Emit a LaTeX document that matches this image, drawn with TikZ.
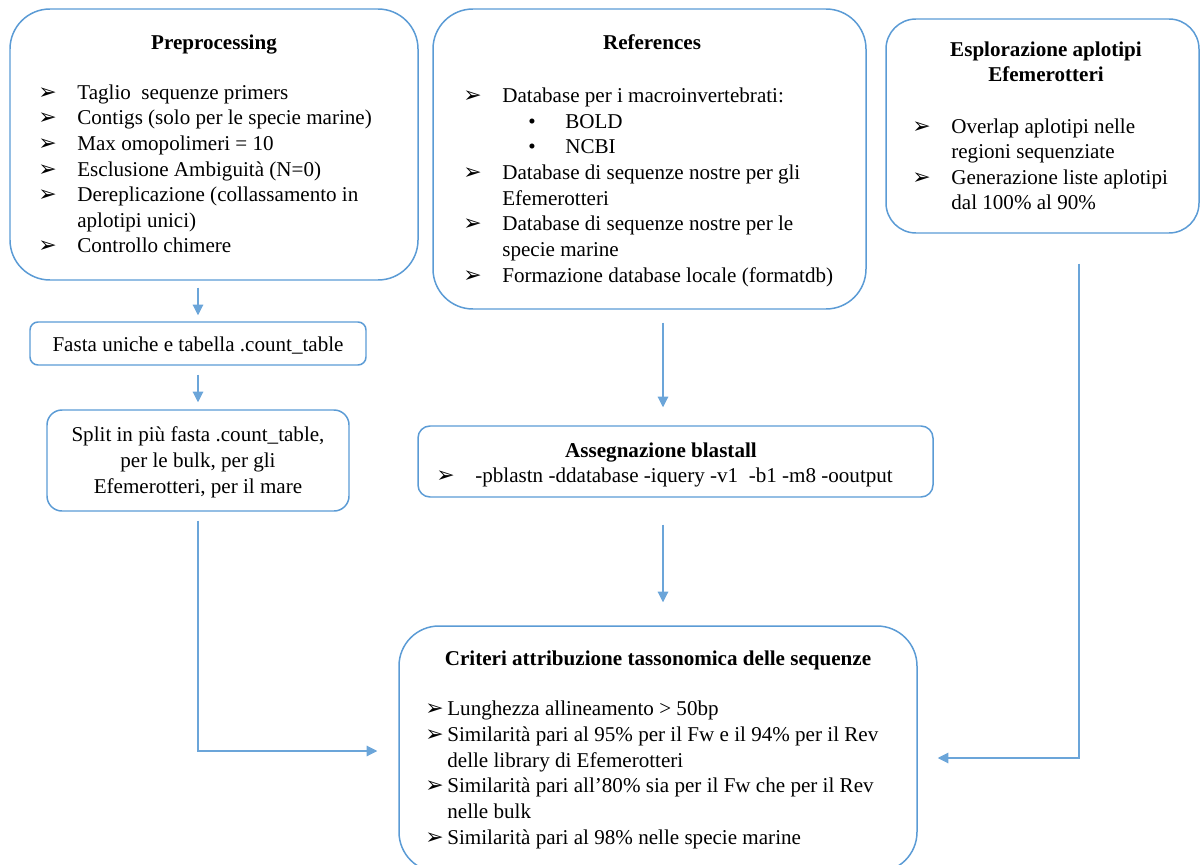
\documentclass[tikz,border=0pt]{standalone}
\usepackage{fontspec}
\setmainfont{Liberation Serif}
\newfontfamily\symfont{DejaVu Sans}
\usetikzlibrary{fit,arrows.meta}

\definecolor{boxblue}{RGB}{91,155,213}

% punti elenco
\newcommand{\pnt}{\makebox[0.78cm][l]{\symfont\fontsize{12.5}{12}\selectfont ➢}}
\newcommand{\cnt}{\hspace*{0.78cm}}
\newcommand{\pntc}{\makebox[0.44cm][l]{\symfont\fontsize{12.5}{12}\selectfont ➢}}
\newcommand{\cntc}{\hspace*{0.44cm}}
\newcommand{\sub}{\hspace*{1.3cm}\makebox[0.74cm][l]{•}}

\tikzset{
    box/.style={draw=boxblue, line width=0.85pt, rounded corners=#1, inner sep=0pt},
    box/.default=0.8cm,
    txt/.style={inner sep=0pt, font=\fontsize{12}{14.6}\selectfont, align=left},
    ttl/.style={inner sep=0pt, font=\fontsize{12}{14.6}\selectfont\bfseries, align=center},
    arr/.style={draw=boxblue!90, line width=0.6pt, -{Triangle[length=6pt,width=6pt]}}
}

\begin{document}
\begin{tikzpicture}[x=0.02cm, y=-0.02cm]

    \useasboundingbox (0,0) rectangle (1201,865);
    \clip (0,0) rectangle (1201,865);

    % Preprocessing
        \node[box, fit={(10,9) (418,280)}] (pre) {};
        \node[ttl, anchor=base] (pretit) at (214,50) {Preprocessing};
        \node[txt, anchor=base west] (prelist) at (38,253) {\pnt Taglio\ \ sequenze primers\\
            \pnt Contigs (solo per le specie marine)\\
            \pnt Max omopolimeri = 10\\
            \pnt Esclusione Ambiguità (N=0)\\
            \pnt Dereplicazione (collassamento in\\
            \cnt aplotipi unici)\\
            \pnt Controllo chimere};

    % References
        \node[box, fit={(433,9) (866,309)}] (ref) {};
        \node[ttl, anchor=base] (reftit) at (652,50) {References};
        \node[txt, anchor=base west] (reflist) at (463,282) {\pnt Database per i macroinvertebrati:\\
            \sub BOLD\\
            \sub NCBI\\
            \pnt Database di sequenze nostre per gli\\
            \cnt Efemerotteri\\
            \pnt Database di sequenze nostre per le\\
            \cnt specie marine\\
            \pnt Formazione database locale (formatdb)};

    % Esplorazione aplotipi
        \node[box=0.6cm, fit={(886,19) (1199,233)}] (esp) {};
        \node[ttl, anchor=base] (esptit) at (1046,82) {Esplorazione aplotipi\\ Efemerotteri};
        \node[txt, anchor=base west] (esplist) at (912,210) {\pnt Overlap aplotipi nelle\\
            \cnt regioni sequenziate\\
            \pnt Generazione liste aplotipi\\
            \cnt dal 100\% al 90\%};

    % Fasta uniche
        \node[box=0.16cm, fit={(30,322) (366,365)}] (fasta) {};
        \node[txt, anchor=base] (fastatxt) at (198,351) {Fasta uniche e tabella .count\_table};

    % Split
        \node[box=0.3cm, fit={(47,410) (349,511)}] (split) {};
        \node[txt, align=center, anchor=base] (splittxt) at (198,493) {Split in più fasta .count\_table,\\
            per le bulk, per gli\\
            Efemerotteri, per il mare};

    % Assegnazione blastall
        \node[box=0.24cm, fit={(418,426) (933,497)}] (blast) {};
        \node[ttl, anchor=base] (blasttit) at (661,457) {Assegnazione blastall};
        \node[txt, anchor=base west] (blastlist) at (436,482) {\pnt -pblastn -ddatabase -iquery -v1\ \ -b1 -m8 -ooutput};

    % Criteri
        \node[box, fit={(399,626) (917,872)}] (crit) {};
        \node[ttl, anchor=base] (crittit) at (658,665) {Criteri attribuzione tassonomica delle sequenze};
        \node[txt, anchor=base west] (critlist) at (425,844) {\pntc Lunghezza allineamento > 50bp\\
            \pntc Similarità pari al 95\% per il Fw e il 94\% per il Rev\\
            \cntc delle library di Efemerotteri\\
            \pntc Similarità pari all’80\% sia per il Fw che per il Rev\\
            \cntc nelle bulk\\
            \pntc Similarità pari al 98\% nelle specie marine};

    % Frecce
        \draw[arr, shorten <=0.14cm, shorten >=0.12cm] (pre.south -| fasta.north) -- (fasta.north);
        \draw[arr, shorten <=0.18cm, shorten >=0.14cm] (fasta.south) -- (split.north);
        \draw[arr, shorten <=0.26cm, shorten >=0.36cm] (ref.south -| 663,0) -- (blast.north -| 663,0);
        \draw[arr, shorten <=0.54cm, shorten >=0.46cm] (blast.south -| 663,0) -- (crit.north -| 663,0);
        \draw[arr, shorten <=0.18cm, shorten >=0.42cm] (split.south) |- (crit.west |- 0,751);
        \draw[arr, shorten <=0.6cm, shorten >=0.4cm] (esp.south -| 1079,0) |- (crit.east |- 0,758);

\end{tikzpicture}
\end{document}
